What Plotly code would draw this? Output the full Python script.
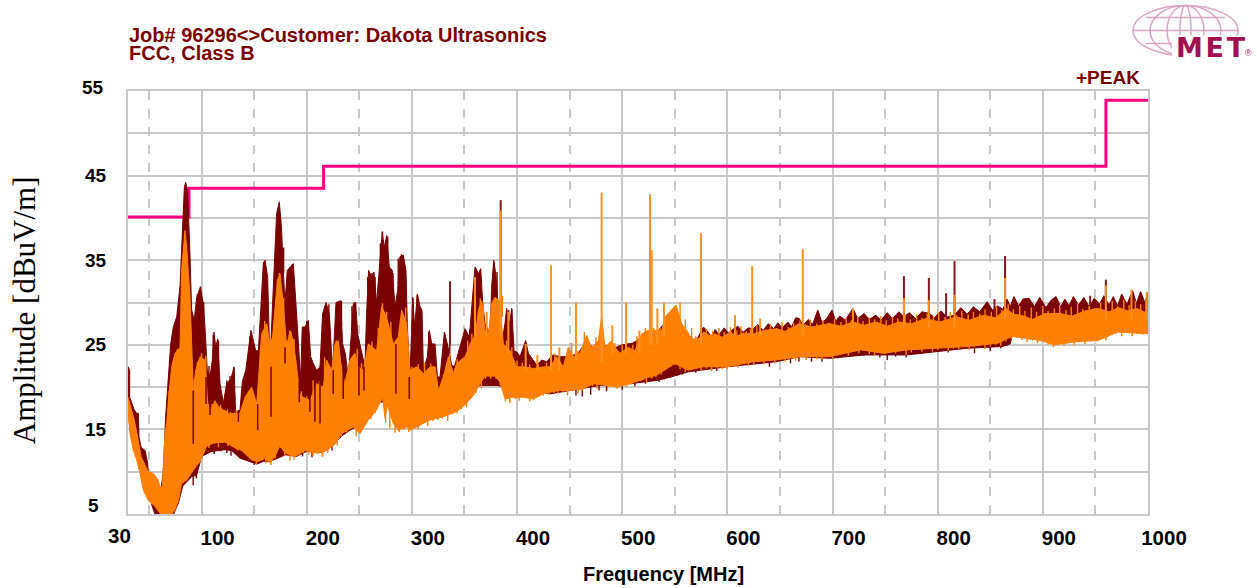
import plotly.graph_objects as go

limit_f = [30, 88, 88, 216, 216, 960, 960, 1000]
limit_db = [40.1, 40.1, 43.5, 43.5, 46.1, 46.1, 53.9, 53.9]

dark_hi_f = [30,31.6,31.6,33.5,36,38.2,39.8,40.5,42.4,46.2,48.7,51,55.7,58.8,63.6,65.8,68.4,70.6,73.1,76.3,79.5,81.7,83.6,84.8,86.7,89,90.5,93,95.3,98.8,101.6,103.2,105.4,108,110.2,111.8,113.4,115.3,117.5,120.7,123.8,128,130.8,132.4,136.5,138.7,142,144.4,147,149.2,151.4,154,156.5,158.7,160.3,162.8,165,
167.5,169.4,171.3,173.9,176.1,177.7,179.3,181.5,184.7,187.2,189.7,191.9,194.2,195.7,198.3,201.5,203.7,206.2,209.4,212.6,215.1,218.3,221.4,224.6,227.8,232.2,234.1,236.6,239.5,241.7,244.3,246.5,248.4,251.2,255.3,256.9,258.8,261.7,263.9,266.4,269.6,271.8,273.7,276,278.5,281.3,283.9,286.4,288.6,291.8,294.3,295.6,298.1,
300.7,302.6,305.2,307.7,309.6,310.9,314.7,316.6,318.8,322,324.2,326.7,330.9,333.7,337.8,340.4,345.8,350.5,354.6,360,363.2,365.4,367.3,369.5,374.3,375.9,377.8,379.7,382.2,385.4,388.5,390.1,392.7,394.9,397.1,400.3,402.8,408.2,410.7,413.9,418.7,423.4,428.2,433.9,441,450,458,466,475,484,492,500,510,520,532,545,552,558,564,570,
577.3,581,585,588.2,592,597,601,606,610,615,620,624.7,629,634,639,644,648,652,657.5,661,665,668.4,672,677,681,686,690,695,699.4,703,707,712,719.4,724,730,735,741.3,746,752,757,763.1,768,773,779,785,792.3,797,803,809,816,822,828,834,840,847,852,857,862,866,869,872.5,877,881,887,892,897,903,908,912.5,917,921,925,929,934,939,944,949,954,958,963,967,971,975,980,985.4,989,993,997,1000]
dark_hi_db = [22.4,22,18.8,18.1,17.3,16.9,16.9,14.1,12.9,12.5,11,6.6,6.2,5.1,10.2,16.5,21.2,25.1,27.1,28.3,32,38.9,43.6,44.2,43.2,35.4,29.1,27.9,30.6,31.8,29.9,27.1,22,21.2,23.2,26.5,24.7,25.7,20.4,18.1,20.4,21,22.4,16.9,17.3,20.6,22,24.3,26.7,25.5,24.3,24.3,29.9,34.6,35,33,22.8,
29.5,36,40.5,41.9,38.5,33.8,29.9,33.8,34.2,34.6,29.9,24.7,20.8,27.1,27.1,27.9,23.6,22.8,22,22.4,28.7,30,28.7,22,30,30.2,25.1,24,21.2,25.1,29.9,30,26.3,24.7,22.4,28.7,33.8,33,33.6,29.9,35.2,38.3,36.5,37.9,34.2,33.8,29.5,31.4,35.4,35.6,33.8,27.5,20.8,
30.6,27.1,31,29.5,29.1,22,23.6,26.7,25.1,25.1,21.2,21.2,26.5,25.1,22.6,22.4,24.9,26.9,25.9,34.2,33.4,34,29.9,27.5,26.3,32,35,33.4,29.5,25.1,27.5,29.3,27.3,29.3,24.3,24.1,23.6,25.5,24,23.4,22.6,23.2,23,23.8,23.6,23.6,24,25.4,24.4,24.9,24.6,25,25.2,26,26.4,28.2,28.8,27,26,25.4,
27.1,26.6,25.9,26.8,26.2,27,26.4,26.9,27.2,26.5,27,26.9,27.4,26.7,27.5,26.9,27.6,27,27.7,27.1,28.2,28.1,27.3,28,27.4,29.1,27.6,28.2,29.1,27.8,28.4,27.9,29.3,28.1,28.7,28,28.5,27.9,28.8,28.1,28.9,28.3,28.8,28.1,28.9,28.7,28.2,29,28.3,28.5,29.4,28.6,29.5,28.9,30.1,29.1,29.6,29.2,30.4,29.5,30.7,29.6,30.4,30.5,29.5,30.6,29.4,30.3,30.7,29.5,30.4,29.6,30.7,29.7,30.6,29.5,30.5,29.8,30.8,29.7,30.7,29.6,31,29.8,31.4,29.9,31.3,30,31.2]

dark_lo_f = [30,53,57.3,66.8,72,78,82,90.5,95.3,100,109.6,122.3,128.6,136.5,152.4,158.7,165,180,190,200,215,225,232,241,255,270,366,380,431.3,478.9,507.4,533.6,546.3,562.7,599.2,646.5,668.4,697.5,730.3,770.4,828.7,861.5,868.8,872,1000]
dark_lo_db = [16.9,5.9,4.4,4,4.6,6.3,8.3,9.4,9.6,11.8,12.4,12.6,12.5,11.6,10.9,11.2,11.2,12,11.8,12.4,12.3,13.1,14.1,14.9,15.8,18.2,20.2,20.2,19.2,20.2,20.4,20.8,21.2,21.8,22.4,23,23.6,23.4,23.8,23.8,24.6,24.8,25.1,26.5,27]

orange_hi_f = [30,33.5,36,39.8,42.4,46.2,49.3,54,58.8,60.4,62.6,65.2,66.8,68.4,71.5,74.7,79.5,81,84.2,85.8,89,92.1,94.4,98.5,103.2,105.8,109.6,112.7,115.9,120.7,128.6,136.5,141.3,147.6,152.4,157.1,161.9,165,
167.5,169.4,172,174.5,177.7,180.9,184,187.2,190.4,193.5,196.7,203,209.4,215.7,218.9,223.6,226.8,230,233.2,236.3,241.1,245.8,249,253.8,258.5,266.4,271.2,274.4,277.5,282.3,287,290.2,295,
298.2,304.5,310.9,317.2,322,325.2,329.9,334.7,339.4,342.6,350.5,355.3,358.4,360.6,363.2,366.4,369.5,372.7,375.9,379,383.2,387,393.3,399.6,406,415.5,425,431.3,437.6,444,448.7,453.5,459.8,466.2,470.9,477.3,480.4,483.6,490,493.1,497.9,505.8,512.1,518.5,524.8,531.2,537.5,540.7,547,551.1,556.5,561.3,566,572.4,
577.3,583,588.2,595,602.8,609,615,624.7,635,646.5,655,668.4,680,697.5,708,719.4,730,741.3,752,763.1,775,788.6,802,817.8,830,843.3,855,865.2,872,879.7,890,902,916.2,928,940,952.6,963,972,981,989,1000]
orange_hi_db = [18.8,17.3,16.1,13.7,11.8,10.8,10,9.8,9,8.2,8.2,14.5,15.7,18.4,22.4,24,24.7,33.8,38.5,36.5,30.6,19.6,22,23.6,23.2,18.1,17.3,18.4,17.7,17.3,16.9,16.9,18.8,20,18,26.3,27.5,25.1,
25.9,28.7,32.6,33.4,29.9,24.7,26.7,25.5,22,19.2,18.8,18.4,20.4,20,23.2,22,25.1,25.5,22,20.4,23.2,24,22.4,22,25.1,24.3,29.5,28.7,27.5,25.1,25.9,29.1,27.5,
22,22.4,21.6,22.4,22.4,19.6,21.2,23.6,21.6,22.8,23.6,25.1,25.9,26.3,29.1,30.2,26.7,26.3,29.9,30.6,30.2,25.1,24.3,22.4,22.4,22.2,22.4,22.4,23.6,22.4,24.7,23.6,24,26.1,24.7,25.5,28.3,24.7,25.5,24.7,24,24.7,24.3,26.3,26.7,26.7,26.7,28.3,29.1,29.7,27.5,26.7,25.7,25.7,
26.5,26.1,26.3,25.9,26.5,26,26.4,26.3,26.7,26.9,26.6,27.5,27.1,27.5,27.2,27.7,27.3,27.7,27.2,27.7,27.5,28.1,27.7,28.3,27.9,28.5,28.2,29.3,28.6,28.5,28,28.7,28.7,28.4,29,29.3,28.9,29.4,29,29.3,28.7]

orange_lo_f = [30,31.9,35.1,38.2,41.4,44.6,49.3,55.7,60.4,65.2,70,74.7,77.9,81,85.8,92.1,98.5,104.8,111.2,122.3,131.8,138.1,147.6,154,160.3,165,169.8,174.5,179.3,188.8,198.3,209.4,218.9,226.8,233.2,244.3,250.6,258.5,266.4,272.1,274.4,276.6,282.3,287,295,298.2,307.7,317.2,329.9,342.6,350.5,358.4,364.8,369.5,379,383.8,388.5,396.5,406,415.5,425,431.3,440.8,450.3,463,472.5,495.3,507.4,526.3,532.7,550,562.7,577.3,599.2,624.7,646.5,668.4,697.5,726.7,748.5,770.4,799.6,828.7,857.9,870.6,898,910.7,934.4,952.6,970.9,1000]
orange_lo_db = [16.9,14.5,12.5,11.4,9.8,7.8,6.6,5.9,5.1,4.5,4.7,5.5,6.6,8.6,9,10.2,11.2,13,13.4,13.5,12.8,12.5,11.4,11.2,11.6,11,11.8,13.1,12.2,11.8,12.5,12.2,12.5,13.3,14.5,15.3,14.5,16.1,17.3,18.8,16.3,17.9,15.7,14.9,15.3,14.9,15.5,16.1,16.5,17.1,17.9,19,20.4,21.3,21.3,20.6,18.6,18.8,18.8,18.6,19.2,19.4,19.6,19.6,19.8,20.4,20,20.4,21.2,21.4,22.8,22,22.4,22.4,23,23.2,23.6,23.6,24.4,24,24.4,24.6,24.8,25.2,26,25.5,25,25.4,25.5,26.5,26.3]

dark_spike_f = [336.2,384.4,767.9,791.6,808,816,864.1,959.9,854,945]
dark_spike_top = [32.5,42.1,33.1,32.9,31.1,34.9,35.5,32.7,30.4,30.8]
dark_spike_foot = [25,26,28,28,28,28,29,29,28,29]

orange_spike_f = [360,371.1,384.4,391.7,408.2,419.3,432.3,480.4,526.4,528,574.9,456,503.6,490.6,533.4,539.7,516.3,440.2,623.6,671.7,607.2,631.2,719.4,984.3,998.9,959.9,767.9,791.6,816,864.1]
orange_spike_top = [33,28.9,40.9,28.9,25.1,23.8,34.4,43,42.8,36.2,38.2,30,30,27.3,29.3,30,26.7,24.7,34.3,36.3,28.5,28.1,29.3,31.5,31.2,32,30.5,30.3,30.9,32.9]
orange_spike_foot = [26,26,26,24,22,22,22,23,25,25,25,23,24,24,25,26,24,22,26,26,26,26,27,28,28,28,27,27,27,28]

notch_f = [92.1,104.2,108,126,135,153.3,166,179.3,192.9,203,207.8,212.6,225.2,234.7,249.6,254.4,284.8,297.5]
notch_top = [19.6,21.2,20.4,20,17.3,18,22.4,24.7,20.8,18.8,22,22,22,22,24.3,22.4,25.1,21.2]
notch_bottom = [13.3,18,16.7,16.9,15.9,14.9,16.5,22.8,18.2,17.1,15.9,15.7,19.2,18.6,19,19.6,19.2,18.6]

# fine needles along the band edges
dark_up_f = [96,99,102,107,111,116,124,127,131,141,146,150,155,159,175,178,183,186,197,200,210,213,217,221,233,243,246,258,262,265,270,272,277,282,287,290,294,301,305,316,331,336,355,361,364,378,381,392,395]
dark_up_db = [31,31.9,30,22.5,26.2,25.5,20.8,21.3,22.2,21.5,26,25,25,34.8,40,36.5,33.5,34.5,26.8,27.8,21.9,22.6,29,29.8,30.2,29.6,30,33,33.5,33,37,38.4,37.8,33.5,35.2,35.7,33,30.5,30.9,26.5,26.3,25.4,26.8,34,33.2,34.8,33.6,29.1,29.2]

dark_low_f = [72,78,92,95,100,106,112,118,124,128,134,141,150,155,196,205,215,224,232,238,456,462,470,478,485,500,512,522,535,540,546,552,557,570,590,640,660,668,680,690,705,730,745,752,760,770,790,810,835,850,860,866]
dark_low_db = [5.1,6.9,8.4,9.2,11.6,12.3,12.1,12.4,12.2,11.9,12.0,11.6,10.8,11.0,11.8,11.7,11.8,12.5,14.0,14.6,19.0,18.9,19.1,19.6,19.5,19.7,20.1,20.4,20.6,20.9,21.1,21.3,21.5,21.7,21.9,22.4,22.8,23.0,23.0,23.0,23.4,23.7,23.5,23.2,23.6,23.5,24.2,24.1,24.0,24.3,24.6,24.9]

orange_up_f = [69,73,77,80,93,96,100,104,110,118,125,133,145,150,156,160,170,174,178,182,185,188,195,200,206,212,217,221,228,233,238,243,248,252,256,262,268,272,276,280,285,290,294,300,306,312,318,324,330,336,343,348,353,357,365,368,376,380,386,390,395,400,405,412,420,428,436,446,452,458,464,469,475,486,493,500,510,514,522,530,536,545,550,555,560,566,570,
580,586,592,597,603,609,613,618,622,628,636,641,647,652,658,663,669,674,679,685,691,696,702,708,713,718,724,729,735,740,746,751,757,762,769,774,780,785,790,796,801,807,812,818,823,829,834,840,845,851,856,861,867,872,878,883,889,894,900,905,911,916,922,927,933,938,944,949,955,960,966,971,977,982,988,993,998]
orange_up_db = [19.5,23,24.5,25,21,23,24,23.7,18,17.9,17.4,17.3,19.5,19,24.5,27.8,28.5,33.5,30.5,25.5,26.5,25.7,19.5,18.9,20.8,20.7,23.5,22.5,25.5,22.6,20.8,23.5,24.5,22.8,22.5,25.4,27,29.9,28.9,27.7,25.5,26.5,29.4,22.4,22.7,22.9,22.8,20.2,21.5,24,23.3,23.2,25.5,26.3,30.5,30,26.7,30.2,30.8,25.5,24.7,23.1,22.9,22.7,22.7,22.9,24,23,25.2,24.3,26.5,25,25.9,25,25.2,25,25,26,27,27,27,28.8,29.5,30,28,27,26,
26.9,26.6,27.0,26.5,27.1,26.7,27.2,26.6,26.9,27.3,26.8,27.4,27.0,27.7,27.1,27.6,27.9,27.4,28.0,27.5,27.9,27.6,28.1,27.7,28.2,27.9,28.3,27.8,28.2,28.0,28.4,27.9,28.3,28.1,28.5,28.0,28.6,28.2,28.7,28.4,28.8,28.3,28.9,28.5,29.0,28.6,28.9,28.7,29.2,28.9,29.5,29.1,29.8,29.2,29.6,29.0,29.4,28.9,29.6,29.0,29.3,29.7,29.1,29.5,29.9,29.2,29.6,29.3,30.0,29.5,30.2,29.6,30.3,29.7,30.2,29.8,30.4]

orange_low_f = [99,103,107,112,116,120,125,130,134,139,
143,148,152,157,161,166,170,175,179,184,
188,193,197,202,206,211,215,220,224,229,
233,238,243,247,252,256,261,265,270,275,
279,284,288,293,297,302,306,311,315,320,
325,329,334,338,343,347,352,356,361,366,
370,375,380,384,389,393,398,402,407,412,
416,421,425,430,435,439,444,448,453,458,
462,467,472,476,481,486,490,495,500,504,
509,514,518,523,528,532,537,541,546,550,
555,560,565,570,575,580,585,590,595,600,
605,610,615,620,625,630,635,640,645,650,
655,660,665,670,675,680,685,690,695,700,
705,710,715,720,725,730,735,740,745,750,
755,760,765,770,775,780,785,790,795,800,
805,810,815,820,825,830,835,840,845,850,
855,860,865,870,875,880,885,890,895,900,
905,910,915,920,925,930,935,940,945,950,
955,960,965,970,975,980,985,990,995]
orange_low_db = [12.9,13.2,12.8,13.3,12.9,13.4,13.0,13.2,12.5,12.9,
12.1,11.7,10.9,11.5,11.0,10.8,11.6,12.8,11.9,11.3,
11.4,11.9,12.2,12.0,11.9,12.1,11.8,12.2,12.9,13.1,
14.2,14.6,15.1,14.2,14.9,15.6,16.2,16.9,18.2,15.8,
15.1,14.6,14.7,15.0,14.7,15.2,15.0,15.7,15.4,16.0,
16.1,16.3,16.0,16.8,16.9,17.4,17.6,18.7,19.3,19.9,
21,21,21,20.2,18.3,18.1,18.6,18.4,18.7,18.3,
18.5,18.9,19,19.1,19.3,19.2,19.4,19,19.5,19.2,
19.6,20,20.1,19.8,20.3,19.7,20,19.8,20.2,20,
20.3,20.6,20.7,20.5,21,21.2,21.5,22,22.4,22.6,
22.1,21.8,22,22.3,21.9,22.2,21.9,22.3,22.1,22.1,
22.6,22.3,22.8,22.5,22.7,23,22.7,23.1,22.8,23.2,
23,23.4,23.1,23.5,23.2,23.7,23.3,23.2,23.6,23.4,
23.8,24,23.7,24.2,24,24.3,23.9,23.7,24.1,23.9,
24.2,24,24.3,23.8,24.1,24.4,24.2,24.5,24.2,24.4,
24.7,24.3,24.6,24.5,24.8,24.4,24.7,24.9,24.5,24.8,
25,24.9,25.4,25.7,25.8,25.6,25.3,25.5,25.2,25.4,
25,24.7,25.1,24.9,25.3,25,25.3,25.1,25.5,25.4,
25.6,25.5,26.2,26.3,26,26.4,26,26.3,26.2]

x_grid_ticks = [100,200,300,400,500,600,700,800,900,1000]
y_grid_ticks = [5,10,15,20,25,30,35,40,45,50,55]
y_tick_text = ["","","15","","25","","35","","45","",""]

DARK = "#7b0000"
ORANGE = "#ff8000"
GRID = "#c8c8c8"
TITLE = "#7a0000"
NEEDLE = 1.4

def segs(f, a, b):
    xs, ys = [], []
    for fi, ai, bi in zip(f, a, b):
        xs += [fi, fi, None]
        ys += [bi, ai, None]
    return xs, ys

def band(hi_f, hi_db, lo_f, lo_db, color, name):
    return go.Scatter(x=hi_f + lo_f[::-1], y=hi_db + lo_db[::-1], mode="lines", fill="toself",
                      fillcolor=color, line=dict(color=color, width=1),
                      hoverinfo="skip", showlegend=False, name=name, cliponaxis=False)

def sticks(f, a, b, color, width):
    sx, sy = segs(f, a, b)
    return go.Scatter(x=sx, y=sy, mode="lines", line=dict(color=color, width=width),
                      hoverinfo="skip", showlegend=False, cliponaxis=False)

fig = go.Figure()
fig.add_trace(go.Scatter(x=limit_f, y=limit_db, mode="lines", line=dict(color="#ff0080", width=3),
                         showlegend=False, name="Limit", cliponaxis=False))
fig.add_trace(band(dark_hi_f, dark_hi_db, dark_lo_f, dark_lo_db, DARK, "Peak dark"))
fig.add_trace(sticks(dark_up_f, dark_up_db, [v - 3 for v in dark_up_db], DARK, NEEDLE))
fig.add_trace(sticks(dark_low_f, dark_low_db, [v + 2 for v in dark_low_db], DARK, NEEDLE))
fig.add_trace(sticks(dark_spike_f, dark_spike_top, dark_spike_foot, "#86141a", 2))
fig.add_trace(band(orange_hi_f, orange_hi_db, orange_lo_f, orange_lo_db, ORANGE, "Peak orange"))
fig.add_trace(sticks(orange_up_f, orange_up_db, [v - 2.5 for v in orange_up_db], ORANGE, NEEDLE))
fig.add_trace(sticks(orange_low_f, orange_low_db, [v + 2.5 for v in orange_low_db], ORANGE, NEEDLE))
fig.add_trace(sticks(orange_spike_f, orange_spike_top, orange_spike_foot, "#ff9020", 2))
fig.add_trace(sticks(notch_f, notch_top, notch_bottom, DARK, 1.5))

L, R, T, B = 128, 1148, 90.5, 514
def px(x): return (x - L) / (R - L)
def py(y): return (B - y) / (B - T)

def note(text, x, y, size, color="#000000", family="Liberation Sans", bold=True, anchor="left", angle=0):
    fig.add_annotation(text=f"<b>{text}</b>" if bold else text, x=px(x), y=py(y), xref="paper", yref="paper",
                       showarrow=False, xanchor=anchor, yanchor="middle", textangle=angle,
                       font=dict(size=size, color=color, family=family))

note("Job# 96296&lt;&gt;Customer: Dakota Ultrasonics", 127, 34, 20, TITLE)
note("FCC, Class B", 127, 52, 20, TITLE)
note("+PEAK", 1074, 77, 19, TITLE)
note("Frequency [MHz]", 663, 574, 20, anchor="center")
note("Amplitude [dBuV/m]", 24, 310, 31, family="Liberation Serif", bold=False, anchor="center", angle=-90)
note("30", 119, 536, 20.5, anchor="center")
note("5", 93, 505, 19, anchor="center")
note("55", 93, 87, 19, anchor="center")

# logo
PINK = "#dba6c4"
for a, b in [(1133, 1238), (1150, 1221), (1167, 1204), (1180, 1191)]:
    fig.add_shape(type="circle", xref="paper", yref="paper", x0=px(a), x1=px(b), y0=py(55), y1=py(5),
                  line=dict(color=PINK, width=1.5))
for y, a, b in [(17, 1146, 1225), (30, 1133, 1238), (43, 1146, 1225)]:
    fig.add_shape(type="line", xref="paper", yref="paper", x0=px(a), x1=px(b), y0=py(y), y1=py(y),
                  line=dict(color=PINK, width=1.5))
fig.add_shape(type="rect", xref="paper", yref="paper", x0=px(1172), x1=px(1257), y0=py(58), y1=py(35),
              fillcolor="white", line=dict(width=0))
note("M\u200aE\u200aT", 1174, 47, 27, "#a01050", family="DejaVu Sans")
note("®", 1243, 52, 9, "#a01050", family="Liberation Sans", bold=False)

fig.update_layout(
    width=1257, height=588, autosize=False,
    margin=dict(l=L, r=1257 - R, t=T, b=588 - B, pad=0),
    paper_bgcolor="white", plot_bgcolor="white", showlegend=False,
    xaxis=dict(range=[30, 1000], tickmode="array", tickvals=x_grid_ticks,
               ticks="", showgrid=True, gridcolor=GRID, gridwidth=2,
               showline=True, linecolor=GRID, linewidth=2, mirror=True, zeroline=False,
               ticklabelshift=16, ticklabelstandoff=4,
               tickfont=dict(size=20.5, color="black", family="Liberation Sans", weight="bold"),
               minor=dict(tick0=50, dtick=100, showgrid=True, gridcolor=GRID, gridwidth=1.5, griddash="dash", ticks="")),
    yaxis=dict(range=[5, 55], tickmode="array", tickvals=y_grid_ticks, ticktext=y_tick_text,
               ticks="", showgrid=True, gridcolor=GRID, gridwidth=2,
               showline=True, linecolor=GRID, linewidth=2, mirror=True, zeroline=False,
               ticklabelstandoff=16, ticklabelshift=0,
               tickfont=dict(size=19, color="black", family="Liberation Sans", weight="bold")),
)
fig.write_html("out.html", config={"displayModeBar": False},
               post_script="document.body.style.margin='0';document.documentElement.style.overflow='hidden';")
